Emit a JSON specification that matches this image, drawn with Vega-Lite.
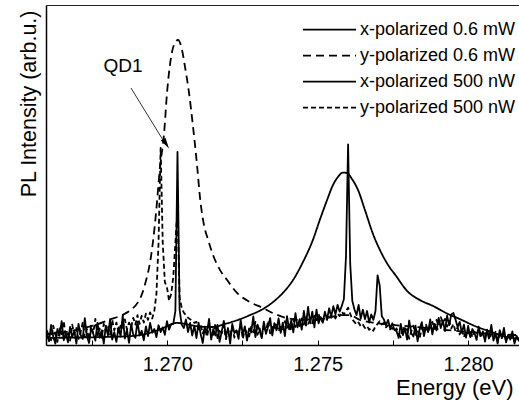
{
"$schema": "https://vega.github.io/schema/vega-lite/v6.json",
"autosize": {"type": "none"},
"padding": {"left": 46, "top": 5, "right": 0, "bottom": 56},
"width": 473,
"height": 340,
"background": "white",
"config": {
  "view": {"stroke": null},
  "font": "Liberation Sans",
  "legend": {"orient": "none", "legendX": 256, "legendY": 12, "symbolType": "stroke", "symbolSize": 2809, "symbolStrokeColor": "black", "labelFont": "Liberation Sans", "labelFontSize": 18, "labelColor": "black", "clipHeight": 25.3, "rowPadding": 0, "labelOffset": 3, "padding": 0, "title": null}
},
"datasets": {
"smooth": [
{"e":1.266,"v":0.021,"s":"x6"},{"e":1.2671,"v":0.022,"s":"x6"},{"e":1.2681,"v":0.024,"s":"x6"},{"e":1.26876,"v":0.026,"s":"x6"},{"e":1.26926,"v":0.032,"s":"x6"},{"e":1.26959,"v":0.041,"s":"x6"},{"e":1.26986,"v":0.05,"s":"x6"},{"e":1.27009,"v":0.059,"s":"x6"},{"e":1.27032,"v":0.065,"s":"x6"},{"e":1.27052,"v":0.063,"s":"x6"},{"e":1.27075,"v":0.059,"s":"x6"},{"e":1.27109,"v":0.054,"s":"x6"},{"e":1.27152,"v":0.053,"s":"x6"},{"e":1.27192,"v":0.062,"s":"x6"},{"e":1.27242,"v":0.076,"s":"x6"},{"e":1.27275,"v":0.088,"s":"x6"},{"e":1.27308,"v":0.101,"s":"x6"},{"e":1.27351,"v":0.126,"s":"x6"},{"e":1.27384,"v":0.153,"s":"x6"},{"e":1.27418,"v":0.191,"s":"x6"},{"e":1.27451,"v":0.244,"s":"x6"},{"e":1.27484,"v":0.309,"s":"x6"},{"e":1.27507,"v":0.368,"s":"x6"},{"e":1.27531,"v":0.426,"s":"x6"},{"e":1.27551,"v":0.471,"s":"x6"},{"e":1.27567,"v":0.494,"s":"x6"},{"e":1.27584,"v":0.507,"s":"x6"},{"e":1.27597,"v":0.506,"s":"x6"},{"e":1.27614,"v":0.488,"s":"x6"},{"e":1.27634,"v":0.456,"s":"x6"},{"e":1.27657,"v":0.397,"s":"x6"},{"e":1.27684,"v":0.326,"s":"x6"},{"e":1.27707,"v":0.279,"s":"x6"},{"e":1.2773,"v":0.241,"s":"x6"},{"e":1.27763,"v":0.2,"s":"x6"},{"e":1.27796,"v":0.16,"s":"x6"},{"e":1.2784,"v":0.132,"s":"x6"},{"e":1.27883,"v":0.115,"s":"x6"},{"e":1.27929,"v":0.093,"s":"x6"},{"e":1.27973,"v":0.076,"s":"x6"},{"e":1.28022,"v":0.056,"s":"x6"},{"e":1.28072,"v":0.04,"s":"x6"},{"e":1.28122,"v":0.025,"s":"x6"},{"e":1.28172,"v":0.018,"s":"x6"},
{"e":1.266,"v":0.032,"s":"y6"},{"e":1.2666,"v":0.038,"s":"y6"},{"e":1.2671,"v":0.047,"s":"y6"},{"e":1.2676,"v":0.059,"s":"y6"},{"e":1.2681,"v":0.075,"s":"y6"},{"e":1.2685,"v":0.088,"s":"y6"},{"e":1.26883,"v":0.106,"s":"y6"},{"e":1.26903,"v":0.126,"s":"y6"},{"e":1.26916,"v":0.15,"s":"y6"},{"e":1.26929,"v":0.188,"s":"y6"},{"e":1.26943,"v":0.244,"s":"y6"},{"e":1.26952,"v":0.3,"s":"y6"},{"e":1.26962,"v":0.382,"s":"y6"},{"e":1.26976,"v":0.524,"s":"y6"},{"e":1.26989,"v":0.618,"s":"y6"},{"e":1.27,"v":0.75,"s":"y6"},{"e":1.27009,"v":0.824,"s":"y6"},{"e":1.27022,"v":0.882,"s":"y6"},{"e":1.27036,"v":0.897,"s":"y6"},{"e":1.27049,"v":0.868,"s":"y6"},{"e":1.27059,"v":0.818,"s":"y6"},{"e":1.27072,"v":0.744,"s":"y6"},{"e":1.27085,"v":0.647,"s":"y6"},{"e":1.27099,"v":0.529,"s":"y6"},{"e":1.27109,"v":0.432,"s":"y6"},{"e":1.27122,"v":0.353,"s":"y6"},{"e":1.27136,"v":0.309,"s":"y6"},{"e":1.27152,"v":0.265,"s":"y6"},{"e":1.27175,"v":0.221,"s":"y6"},{"e":1.27199,"v":0.191,"s":"y6"},{"e":1.27232,"v":0.153,"s":"y6"},{"e":1.27275,"v":0.126,"s":"y6"},{"e":1.27318,"v":0.109,"s":"y6"},{"e":1.27351,"v":0.094,"s":"y6"},{"e":1.27398,"v":0.079,"s":"y6"},{"e":1.27441,"v":0.074,"s":"y6"},{"e":1.2749,"v":0.076,"s":"y6"},{"e":1.27531,"v":0.079,"s":"y6"},{"e":1.27574,"v":0.088,"s":"y6"},{"e":1.27607,"v":0.088,"s":"y6"},{"e":1.2764,"v":0.074,"s":"y6"},{"e":1.2769,"v":0.065,"s":"y6"},{"e":1.2775,"v":0.059,"s":"y6"},{"e":1.27829,"v":0.053,"s":"y6"},{"e":1.27929,"v":0.044,"s":"y6"},{"e":1.28006,"v":0.038,"s":"y6"},{"e":1.28089,"v":0.032,"s":"y6"},{"e":1.28172,"v":0.029,"s":"y6"}
],
"noisy": [
{"e":1.266,"v":0.036,"s":"x5"},{"e":1.26607,"v":0.011,"s":"x5"},{"e":1.26614,"v":0.059,"s":"x5"},{"e":1.26621,"v":0.025,"s":"x5"},{"e":1.26628,"v":0.004,"s":"x5"},{"e":1.26635,"v":0.047,"s":"x5"},{"e":1.26642,"v":0.028,"s":"x5"},{"e":1.26649,"v":0.070,"s":"x5"},{"e":1.26656,"v":0.014,"s":"x5"},{"e":1.26663,"v":0.035,"s":"x5"},
{"e":1.2667,"v":0.008,"s":"x5"},{"e":1.26677,"v":0.053,"s":"x5"},{"e":1.26684,"v":0.023,"s":"x5"},{"e":1.26691,"v":0.042,"s":"x5"},{"e":1.26698,"v":0.004,"s":"x5"},{"e":1.26705,"v":0.062,"s":"x5"},{"e":1.26712,"v":0.030,"s":"x5"},{"e":1.26719,"v":0.018,"s":"x5"},{"e":1.26726,"v":0.079,"s":"x5"},{"e":1.26733,"v":0.026,"s":"x5"},
{"e":1.2674,"v":0.006,"s":"x5"},{"e":1.26747,"v":0.048,"s":"x5"},{"e":1.26754,"v":0.033,"s":"x5"},{"e":1.26761,"v":0.013,"s":"x5"},{"e":1.26768,"v":0.065,"s":"x5"},{"e":1.26775,"v":0.021,"s":"x5"},{"e":1.26782,"v":0.043,"s":"x5"},{"e":1.26789,"v":0.004,"s":"x5"},{"e":1.26796,"v":0.057,"s":"x5"},{"e":1.26803,"v":0.028,"s":"x5"},
{"e":1.2681,"v":0.076,"s":"x5"},{"e":1.26817,"v":0.016,"s":"x5"},{"e":1.26824,"v":0.038,"s":"x5"},{"e":1.26831,"v":0.009,"s":"x5"},{"e":1.26838,"v":0.052,"s":"x5"},{"e":1.26845,"v":0.025,"s":"x5"},{"e":1.26852,"v":0.087,"s":"x5"},{"e":1.26859,"v":0.019,"s":"x5"},{"e":1.26866,"v":0.045,"s":"x5"},{"e":1.26873,"v":0.006,"s":"x5"},
{"e":1.2688,"v":0.060,"s":"x5"},{"e":1.26887,"v":0.031,"s":"x5"},{"e":1.26894,"v":0.021,"s":"x5"},{"e":1.26901,"v":0.069,"s":"x5"},{"e":1.26908,"v":0.028,"s":"x5"},{"e":1.26915,"v":0.042,"s":"x5"},{"e":1.26922,"v":0.014,"s":"x5"},{"e":1.26929,"v":0.055,"s":"x5"},{"e":1.26936,"v":0.026,"s":"x5"},{"e":1.26943,"v":0.065,"s":"x5"},
{"e":1.2695,"v":0.036,"s":"x5"},{"e":1.26957,"v":0.047,"s":"x5"},{"e":1.26964,"v":0.023,"s":"x5"},{"e":1.26971,"v":0.058,"s":"x5"},{"e":1.26978,"v":0.038,"s":"x5"},{"e":1.26985,"v":0.052,"s":"x5"},{"e":1.26992,"v":0.030,"s":"x5"},{"e":1.26999,"v":0.070,"s":"x5"},{"e":1.27006,"v":0.045,"s":"x5"},{"e":1.27013,"v":0.062,"s":"x5"},
{"e":1.2702,"v":0.062,"s":"x5"},{"e":1.27027,"v":0.100,"s":"x5"},{"e":1.27034,"v":0.568,"s":"x5"},{"e":1.27041,"v":0.105,"s":"x5"},{"e":1.27048,"v":0.060,"s":"x5"},{"e":1.27055,"v":0.050,"s":"x5"},{"e":1.27062,"v":0.075,"s":"x5"},{"e":1.27069,"v":0.038,"s":"x5"},{"e":1.27076,"v":0.065,"s":"x5"},{"e":1.27083,"v":0.028,"s":"x5"},
{"e":1.2709,"v":0.057,"s":"x5"},{"e":1.27097,"v":0.020,"s":"x5"},{"e":1.27104,"v":0.066,"s":"x5"},{"e":1.27111,"v":0.032,"s":"x5"},{"e":1.27118,"v":0.006,"s":"x5"},{"e":1.27125,"v":0.054,"s":"x5"},{"e":1.27132,"v":0.037,"s":"x5"},{"e":1.27139,"v":0.077,"s":"x5"},{"e":1.27146,"v":0.016,"s":"x5"},{"e":1.27153,"v":0.047,"s":"x5"},
{"e":1.2716,"v":0.028,"s":"x5"},{"e":1.27167,"v":0.059,"s":"x5"},{"e":1.27174,"v":0.009,"s":"x5"},{"e":1.27181,"v":0.040,"s":"x5"},{"e":1.27188,"v":0.071,"s":"x5"},{"e":1.27195,"v":0.025,"s":"x5"},{"e":1.27202,"v":0.050,"s":"x5"},{"e":1.27209,"v":0.004,"s":"x5"},{"e":1.27216,"v":0.062,"s":"x5"},{"e":1.27223,"v":0.035,"s":"x5"},
{"e":1.2723,"v":0.043,"s":"x5"},{"e":1.27237,"v":0.018,"s":"x5"},{"e":1.27244,"v":0.074,"s":"x5"},{"e":1.27251,"v":0.030,"s":"x5"},{"e":1.27258,"v":0.055,"s":"x5"},{"e":1.27265,"v":0.013,"s":"x5"},{"e":1.27272,"v":0.049,"s":"x5"},{"e":1.27279,"v":0.037,"s":"x5"},{"e":1.27286,"v":0.084,"s":"x5"},{"e":1.27293,"v":0.023,"s":"x5"},
{"e":1.273,"v":0.060,"s":"x5"},{"e":1.27307,"v":0.042,"s":"x5"},{"e":1.27314,"v":0.020,"s":"x5"},{"e":1.27321,"v":0.069,"s":"x5"},{"e":1.27328,"v":0.033,"s":"x5"},{"e":1.27335,"v":0.054,"s":"x5"},{"e":1.27342,"v":0.079,"s":"x5"},{"e":1.27349,"v":0.028,"s":"x5"},{"e":1.27356,"v":0.064,"s":"x5"},{"e":1.27363,"v":0.043,"s":"x5"},
{"e":1.2737,"v":0.078,"s":"x5"},{"e":1.27377,"v":0.036,"s":"x5"},{"e":1.27384,"v":0.066,"s":"x5"},{"e":1.27391,"v":0.026,"s":"x5"},{"e":1.27398,"v":0.085,"s":"x5"},{"e":1.27405,"v":0.046,"s":"x5"},{"e":1.27412,"v":0.072,"s":"x5"},{"e":1.27419,"v":0.037,"s":"x5"},{"e":1.27426,"v":0.094,"s":"x5"},{"e":1.27433,"v":0.052,"s":"x5"},
{"e":1.2744,"v":0.076,"s":"x5"},{"e":1.27447,"v":0.045,"s":"x5"},{"e":1.27454,"v":0.100,"s":"x5"},{"e":1.27461,"v":0.057,"s":"x5"},{"e":1.27468,"v":0.112,"s":"x5"},{"e":1.27475,"v":0.064,"s":"x5"},{"e":1.27482,"v":0.098,"s":"x5"},{"e":1.27489,"v":0.052,"s":"x5"},{"e":1.27496,"v":0.104,"s":"x5"},{"e":1.27503,"v":0.064,"s":"x5"},
{"e":1.2751,"v":0.082,"s":"x5"},{"e":1.27517,"v":0.066,"s":"x5"},{"e":1.27524,"v":0.098,"s":"x5"},{"e":1.27531,"v":0.074,"s":"x5"},{"e":1.27538,"v":0.108,"s":"x5"},{"e":1.27545,"v":0.084,"s":"x5"},{"e":1.27552,"v":0.114,"s":"x5"},{"e":1.27559,"v":0.090,"s":"x5"},{"e":1.27566,"v":0.118,"s":"x5"},{"e":1.27573,"v":0.098,"s":"x5"},
{"e":1.2758,"v":0.115,"s":"x5"},{"e":1.27587,"v":0.135,"s":"x5"},{"e":1.27594,"v":0.260,"s":"x5"},{"e":1.27601,"v":0.590,"s":"x5"},{"e":1.27608,"v":0.240,"s":"x5"},{"e":1.27615,"v":0.130,"s":"x5"},{"e":1.27622,"v":0.105,"s":"x5"},{"e":1.27629,"v":0.088,"s":"x5"},{"e":1.27636,"v":0.118,"s":"x5"},{"e":1.27643,"v":0.078,"s":"x5"},
{"e":1.2765,"v":0.104,"s":"x5"},{"e":1.27657,"v":0.076,"s":"x5"},{"e":1.27664,"v":0.100,"s":"x5"},{"e":1.27671,"v":0.066,"s":"x5"},{"e":1.27678,"v":0.090,"s":"x5"},{"e":1.27685,"v":0.074,"s":"x5"},{"e":1.27692,"v":0.100,"s":"x5"},{"e":1.27699,"v":0.205,"s":"x5"},{"e":1.27706,"v":0.175,"s":"x5"},{"e":1.27713,"v":0.085,"s":"x5"},
{"e":1.2772,"v":0.075,"s":"x5"},{"e":1.27727,"v":0.058,"s":"x5"},{"e":1.27734,"v":0.074,"s":"x5"},{"e":1.27741,"v":0.048,"s":"x5"},{"e":1.27748,"v":0.064,"s":"x5"},{"e":1.27755,"v":0.044,"s":"x5"},{"e":1.27762,"v":0.041,"s":"x5"},{"e":1.27769,"v":0.021,"s":"x5"},{"e":1.27776,"v":0.062,"s":"x5"},{"e":1.27783,"v":0.029,"s":"x5"},
{"e":1.2779,"v":0.050,"s":"x5"},{"e":1.27797,"v":0.016,"s":"x5"},{"e":1.27804,"v":0.072,"s":"x5"},{"e":1.27811,"v":0.035,"s":"x5"},{"e":1.27818,"v":0.025,"s":"x5"},{"e":1.27825,"v":0.057,"s":"x5"},{"e":1.27832,"v":0.011,"s":"x5"},{"e":1.27839,"v":0.047,"s":"x5"},{"e":1.27846,"v":0.067,"s":"x5"},{"e":1.27853,"v":0.026,"s":"x5"},
{"e":1.2786,"v":0.053,"s":"x5"},{"e":1.27867,"v":0.038,"s":"x5"},{"e":1.27874,"v":0.075,"s":"x5"},{"e":1.27881,"v":0.031,"s":"x5"},{"e":1.27888,"v":0.062,"s":"x5"},{"e":1.27895,"v":0.043,"s":"x5"},{"e":1.27902,"v":0.080,"s":"x5"},{"e":1.27909,"v":0.050,"s":"x5"},{"e":1.27916,"v":0.072,"s":"x5"},{"e":1.27923,"v":0.041,"s":"x5"},
{"e":1.2793,"v":0.086,"s":"x5"},{"e":1.27937,"v":0.058,"s":"x5"},{"e":1.27944,"v":0.090,"s":"x5"},{"e":1.27951,"v":0.094,"s":"x5"},{"e":1.27958,"v":0.075,"s":"x5"},{"e":1.27965,"v":0.053,"s":"x5"},{"e":1.27972,"v":0.068,"s":"x5"},{"e":1.27979,"v":0.036,"s":"x5"},{"e":1.27986,"v":0.060,"s":"x5"},{"e":1.27993,"v":0.022,"s":"x5"},
{"e":1.28,"v":0.056,"s":"x5"},{"e":1.28007,"v":0.023,"s":"x5"},{"e":1.28014,"v":0.047,"s":"x5"},{"e":1.28021,"v":0.035,"s":"x5"},{"e":1.28028,"v":0.015,"s":"x5"},{"e":1.28035,"v":0.054,"s":"x5"},{"e":1.28042,"v":0.027,"s":"x5"},{"e":1.28049,"v":0.040,"s":"x5"},{"e":1.28056,"v":0.010,"s":"x5"},{"e":1.28063,"v":0.045,"s":"x5"},
{"e":1.2807,"v":0.022,"s":"x5"},{"e":1.28077,"v":0.059,"s":"x5"},{"e":1.28084,"v":0.013,"s":"x5"},{"e":1.28091,"v":0.033,"s":"x5"},{"e":1.28098,"v":0.004,"s":"x5"},{"e":1.28105,"v":0.044,"s":"x5"},{"e":1.28112,"v":0.020,"s":"x5"},{"e":1.28119,"v":0.050,"s":"x5"},{"e":1.28126,"v":0.008,"s":"x5"},{"e":1.28133,"v":0.030,"s":"x5"},
{"e":1.2814,"v":0.016,"s":"x5"},{"e":1.28147,"v":0.040,"s":"x5"},{"e":1.28154,"v":0.004,"s":"x5"},{"e":1.28161,"v":0.027,"s":"x5"},{"e":1.28168,"v":0.013,"s":"x5"},{"e":1.28175,"v":0.032,"s":"x5"},
{"e":1.266,"v":0.043,"s":"y5"},{"e":1.26607,"v":0.023,"s":"y5"},{"e":1.26614,"v":0.014,"s":"y5"},{"e":1.26621,"v":0.057,"s":"y5"},{"e":1.26628,"v":0.033,"s":"y5"},{"e":1.26635,"v":0.009,"s":"y5"},{"e":1.26642,"v":0.049,"s":"y5"},{"e":1.26649,"v":0.028,"s":"y5"},{"e":1.26656,"v":0.071,"s":"y5"},{"e":1.26663,"v":0.020,"s":"y5"},
{"e":1.2667,"v":0.040,"s":"y5"},{"e":1.26677,"v":0.013,"s":"y5"},{"e":1.26684,"v":0.060,"s":"y5"},{"e":1.26691,"v":0.032,"s":"y5"},{"e":1.26698,"v":0.050,"s":"y5"},{"e":1.26705,"v":0.018,"s":"y5"},{"e":1.26712,"v":0.037,"s":"y5"},{"e":1.26719,"v":0.066,"s":"y5"},{"e":1.26726,"v":0.023,"s":"y5"},{"e":1.26733,"v":0.047,"s":"y5"},
{"e":1.2674,"v":0.016,"s":"y5"},{"e":1.26747,"v":0.057,"s":"y5"},{"e":1.26754,"v":0.035,"s":"y5"},{"e":1.26761,"v":0.077,"s":"y5"},{"e":1.26768,"v":0.028,"s":"y5"},{"e":1.26775,"v":0.049,"s":"y5"},{"e":1.26782,"v":0.021,"s":"y5"},{"e":1.26789,"v":0.062,"s":"y5"},{"e":1.26796,"v":0.040,"s":"y5"},{"e":1.26803,"v":0.054,"s":"y5"},
{"e":1.2681,"v":0.030,"s":"y5"},{"e":1.26817,"v":0.074,"s":"y5"},{"e":1.26824,"v":0.043,"s":"y5"},{"e":1.26831,"v":0.066,"s":"y5"},{"e":1.26838,"v":0.037,"s":"y5"},{"e":1.26845,"v":0.057,"s":"y5"},{"e":1.26852,"v":0.047,"s":"y5"},{"e":1.26859,"v":0.075,"s":"y5"},{"e":1.26866,"v":0.046,"s":"y5"},{"e":1.26873,"v":0.066,"s":"y5"},
{"e":1.2688,"v":0.052,"s":"y5"},{"e":1.26887,"v":0.080,"s":"y5"},{"e":1.26894,"v":0.060,"s":"y5"},{"e":1.26901,"v":0.088,"s":"y5"},{"e":1.26908,"v":0.062,"s":"y5"},{"e":1.26915,"v":0.086,"s":"y5"},{"e":1.26922,"v":0.066,"s":"y5"},{"e":1.26929,"v":0.092,"s":"y5"},{"e":1.26936,"v":0.074,"s":"y5"},{"e":1.26943,"v":0.096,"s":"y5"},
{"e":1.2695,"v":0.078,"s":"y5"},{"e":1.26957,"v":0.100,"s":"y5"},{"e":1.26964,"v":0.150,"s":"y5"},{"e":1.26971,"v":0.300,"s":"y5"},{"e":1.26978,"v":0.580,"s":"y5"},{"e":1.26985,"v":0.300,"s":"y5"},{"e":1.26992,"v":0.185,"s":"y5"},{"e":1.26999,"v":0.170,"s":"y5"},{"e":1.27006,"v":0.130,"s":"y5"},{"e":1.27013,"v":0.150,"s":"y5"},
{"e":1.2702,"v":0.200,"s":"y5"},{"e":1.27027,"v":0.300,"s":"y5"},{"e":1.27034,"v":0.400,"s":"y5"},{"e":1.27041,"v":0.140,"s":"y5"},{"e":1.27048,"v":0.110,"s":"y5"},{"e":1.27055,"v":0.095,"s":"y5"},{"e":1.27062,"v":0.088,"s":"y5"},{"e":1.27069,"v":0.080,"s":"y5"},{"e":1.27076,"v":0.076,"s":"y5"},{"e":1.27083,"v":0.070,"s":"y5"},
{"e":1.2709,"v":0.065,"s":"y5"},{"e":1.27097,"v":0.068,"s":"y5"},{"e":1.27104,"v":0.046,"s":"y5"},{"e":1.27111,"v":0.058,"s":"y5"},{"e":1.27118,"v":0.034,"s":"y5"},{"e":1.27125,"v":0.049,"s":"y5"},{"e":1.27132,"v":0.024,"s":"y5"},{"e":1.27139,"v":0.054,"s":"y5"},{"e":1.27146,"v":0.039,"s":"y5"},{"e":1.27153,"v":0.030,"s":"y5"},
{"e":1.2716,"v":0.063,"s":"y5"},{"e":1.27167,"v":0.020,"s":"y5"},{"e":1.27174,"v":0.047,"s":"y5"},{"e":1.27181,"v":0.034,"s":"y5"},{"e":1.27188,"v":0.058,"s":"y5"},{"e":1.27195,"v":0.017,"s":"y5"},{"e":1.27202,"v":0.044,"s":"y5"},{"e":1.27209,"v":0.029,"s":"y5"},{"e":1.27216,"v":0.053,"s":"y5"},{"e":1.27223,"v":0.022,"s":"y5"},
{"e":1.2723,"v":0.042,"s":"y5"},{"e":1.27237,"v":0.032,"s":"y5"},{"e":1.27244,"v":0.061,"s":"y5"},{"e":1.27251,"v":0.018,"s":"y5"},{"e":1.27258,"v":0.046,"s":"y5"},{"e":1.27265,"v":0.036,"s":"y5"},{"e":1.27272,"v":0.025,"s":"y5"},{"e":1.27279,"v":0.054,"s":"y5"},{"e":1.27286,"v":0.037,"s":"y5"},{"e":1.27293,"v":0.068,"s":"y5"},
{"e":1.273,"v":0.030,"s":"y5"},{"e":1.27307,"v":0.049,"s":"y5"},{"e":1.27314,"v":0.024,"s":"y5"},{"e":1.27321,"v":0.059,"s":"y5"},{"e":1.27328,"v":0.039,"s":"y5"},{"e":1.27335,"v":0.071,"s":"y5"},{"e":1.27342,"v":0.034,"s":"y5"},{"e":1.27349,"v":0.053,"s":"y5"},{"e":1.27356,"v":0.044,"s":"y5"},{"e":1.27363,"v":0.066,"s":"y5"},
{"e":1.2737,"v":0.040,"s":"y5"},{"e":1.27377,"v":0.056,"s":"y5"},{"e":1.27384,"v":0.046,"s":"y5"},{"e":1.27391,"v":0.070,"s":"y5"},{"e":1.27398,"v":0.050,"s":"y5"},{"e":1.27405,"v":0.064,"s":"y5"},{"e":1.27412,"v":0.042,"s":"y5"},{"e":1.27419,"v":0.077,"s":"y5"},{"e":1.27426,"v":0.053,"s":"y5"},{"e":1.27433,"v":0.066,"s":"y5"},
{"e":1.2744,"v":0.056,"s":"y5"},{"e":1.27447,"v":0.078,"s":"y5"},{"e":1.27454,"v":0.060,"s":"y5"},{"e":1.27461,"v":0.082,"s":"y5"},{"e":1.27468,"v":0.062,"s":"y5"},{"e":1.27475,"v":0.074,"s":"y5"},{"e":1.27482,"v":0.064,"s":"y5"},{"e":1.27489,"v":0.086,"s":"y5"},{"e":1.27496,"v":0.068,"s":"y5"},{"e":1.27503,"v":0.092,"s":"y5"},
{"e":1.2751,"v":0.070,"s":"y5"},{"e":1.27517,"v":0.070,"s":"y5"},{"e":1.27524,"v":0.082,"s":"y5"},{"e":1.27531,"v":0.075,"s":"y5"},{"e":1.27538,"v":0.090,"s":"y5"},{"e":1.27545,"v":0.080,"s":"y5"},{"e":1.27552,"v":0.088,"s":"y5"},{"e":1.27559,"v":0.078,"s":"y5"},{"e":1.27566,"v":0.092,"s":"y5"},{"e":1.27573,"v":0.085,"s":"y5"},
{"e":1.2758,"v":0.098,"s":"y5"},{"e":1.27587,"v":0.090,"s":"y5"},{"e":1.27594,"v":0.100,"s":"y5"},{"e":1.27601,"v":0.110,"s":"y5"},{"e":1.27608,"v":0.092,"s":"y5"},{"e":1.27615,"v":0.075,"s":"y5"},{"e":1.27622,"v":0.068,"s":"y5"},{"e":1.27629,"v":0.060,"s":"y5"},{"e":1.27636,"v":0.066,"s":"y5"},{"e":1.27643,"v":0.055,"s":"y5"},
{"e":1.2765,"v":0.060,"s":"y5"},{"e":1.27657,"v":0.050,"s":"y5"},{"e":1.27664,"v":0.056,"s":"y5"},{"e":1.27671,"v":0.045,"s":"y5"},{"e":1.27678,"v":0.050,"s":"y5"},{"e":1.27685,"v":0.042,"s":"y5"},{"e":1.27692,"v":0.055,"s":"y5"},{"e":1.27699,"v":0.062,"s":"y5"},{"e":1.27706,"v":0.070,"s":"y5"},{"e":1.27713,"v":0.060,"s":"y5"},
{"e":1.2772,"v":0.066,"s":"y5"},{"e":1.27727,"v":0.052,"s":"y5"},{"e":1.27734,"v":0.058,"s":"y5"},{"e":1.27741,"v":0.046,"s":"y5"},{"e":1.27748,"v":0.050,"s":"y5"},{"e":1.27755,"v":0.040,"s":"y5"},{"e":1.27762,"v":0.049,"s":"y5"},{"e":1.27769,"v":0.033,"s":"y5"},{"e":1.27776,"v":0.023,"s":"y5"},{"e":1.27783,"v":0.054,"s":"y5"},
{"e":1.2779,"v":0.037,"s":"y5"},{"e":1.27797,"v":0.047,"s":"y5"},{"e":1.27804,"v":0.018,"s":"y5"},{"e":1.27811,"v":0.040,"s":"y5"},{"e":1.27818,"v":0.057,"s":"y5"},{"e":1.27825,"v":0.030,"s":"y5"},{"e":1.27832,"v":0.043,"s":"y5"},{"e":1.27839,"v":0.021,"s":"y5"},{"e":1.27846,"v":0.050,"s":"y5"},{"e":1.27853,"v":0.035,"s":"y5"},
{"e":1.2786,"v":0.060,"s":"y5"},{"e":1.27867,"v":0.040,"s":"y5"},{"e":1.27874,"v":0.054,"s":"y5"},{"e":1.27881,"v":0.068,"s":"y5"},{"e":1.27888,"v":0.049,"s":"y5"},{"e":1.27895,"v":0.074,"s":"y5"},{"e":1.27902,"v":0.057,"s":"y5"},{"e":1.27909,"v":0.082,"s":"y5"},{"e":1.27916,"v":0.065,"s":"y5"},{"e":1.27923,"v":0.077,"s":"y5"},
{"e":1.2793,"v":0.054,"s":"y5"},{"e":1.27937,"v":0.071,"s":"y5"},{"e":1.27944,"v":0.049,"s":"y5"},{"e":1.27951,"v":0.062,"s":"y5"},{"e":1.27958,"v":0.040,"s":"y5"},{"e":1.27965,"v":0.052,"s":"y5"},{"e":1.27972,"v":0.031,"s":"y5"},{"e":1.27979,"v":0.047,"s":"y5"},{"e":1.27986,"v":0.023,"s":"y5"},{"e":1.27993,"v":0.042,"s":"y5"},
{"e":1.28,"v":0.034,"s":"y5"},{"e":1.28007,"v":0.044,"s":"y5"},{"e":1.28014,"v":0.023,"s":"y5"},{"e":1.28021,"v":0.039,"s":"y5"},{"e":1.28028,"v":0.030,"s":"y5"},{"e":1.28035,"v":0.047,"s":"y5"},{"e":1.28042,"v":0.021,"s":"y5"},{"e":1.28049,"v":0.037,"s":"y5"},{"e":1.28056,"v":0.027,"s":"y5"},{"e":1.28063,"v":0.040,"s":"y5"},
{"e":1.2807,"v":0.016,"s":"y5"},{"e":1.28077,"v":0.033,"s":"y5"},{"e":1.28084,"v":0.025,"s":"y5"},{"e":1.28091,"v":0.039,"s":"y5"},{"e":1.28098,"v":0.013,"s":"y5"},{"e":1.28105,"v":0.030,"s":"y5"},{"e":1.28112,"v":0.021,"s":"y5"},{"e":1.28119,"v":0.035,"s":"y5"},{"e":1.28126,"v":0.011,"s":"y5"},{"e":1.28133,"v":0.027,"s":"y5"},
{"e":1.2814,"v":0.020,"s":"y5"},{"e":1.28147,"v":0.032,"s":"y5"},{"e":1.28154,"v":0.010,"s":"y5"},{"e":1.28161,"v":0.023,"s":"y5"},{"e":1.28168,"v":0.016,"s":"y5"},{"e":1.28175,"v":0.028,"s":"y5"}
],
"arrow": [{"e":1.268794,"v":0.7559,"e2":1.26996,"v2":0.5882}],
"head": [{"e":1.26996,"v":0.5918}],
"label": [{"e":1.268528,"v":0.803,"t":"QD1"}]
},
"resolve": {"axis": {"x": "independent", "y": "independent"}},
"layer": [
{
  "data": {"name": "smooth"},
  "mark": {"type": "line", "color": "black", "clip": true, "interpolate": "monotone", "strokeJoin": "round"},
  "encoding": {
    "x": {"field": "e", "type": "quantitative", "scale": {"domain": [1.26597, 1.28169], "nice": false, "zero": false},
      "axis": {"values": [1.2675, 1.27, 1.2725, 1.275, 1.2775, 1.28], "labelExpr": "abs(datum.value*200 - round(datum.value*200)) < 0.01 ? format(datum.value, '.3f') : ''", "labelOverlap": false, "labelFlush": false, "grid": false, "tickSize": -5, "tickColor": "black", "domainColor": "black", "domainWidth": 1.5, "labelFont": "Liberation Sans", "labelFontSize": 20, "labelColor": "black", "labelPadding": 14, "title": "Energy (eV)", "titleFont": "Liberation Sans", "titleFontSize": 22, "titleFontWeight": "normal", "titleColor": "black", "titleAnchor": "end", "titleAlign": "right", "titleX": 467, "titleY": 49, "titleBaseline": "alphabetic"}},
    "y": {"field": "v", "type": "quantitative", "scale": {"domain": [0, 1], "nice": false},
      "axis": {"title": "PL Intensity (arb.u.)", "labels": false, "ticks": false, "grid": false, "domainColor": "black", "domainWidth": 1.5, "titleFont": "Liberation Sans", "titleFontSize": 21.5, "titleFontWeight": "normal", "titleColor": "black", "titleAngle": 270, "titleX": -11, "titleY": 5, "titleAlign": "right", "titleBaseline": "alphabetic"}},
    "strokeDash": {"field": "s", "type": "nominal", "scale": {"domain": ["x6", "y6", "x5", "y5"], "range": [[1, 0], [8, 5], [1, 0], [5, 3]]},
      "legend": {"labelExpr": "datum.label == 'x6' ? 'x-polarized 0.6 mW' : datum.label == 'y6' ? 'y-polarized 0.6 mW' : datum.label == 'x5' ? 'x-polarized 500 nW' : 'y-polarized 500 nW'"}},
    "strokeWidth": {"field": "s", "type": "nominal", "scale": {"domain": ["x6", "y6", "x5", "y5"], "range": [1.8, 1.8, 1, 1]},
      "legend": {"labelExpr": "datum.label == 'x6' ? 'x-polarized 0.6 mW' : datum.label == 'y6' ? 'y-polarized 0.6 mW' : datum.label == 'x5' ? 'x-polarized 500 nW' : 'y-polarized 500 nW'"}}
  }
},
{
  "data": {"name": "noisy"},
  "mark": {"type": "line", "color": "black", "clip": true, "strokeJoin": "round"},
  "encoding": {
    "x": {"field": "e", "type": "quantitative", "axis": null},
    "y": {"field": "v", "type": "quantitative", "axis": null},
    "strokeDash": {"field": "s", "type": "nominal",
      "legend": {"labelExpr": "datum.label == 'x6' ? 'x-polarized 0.6 mW' : datum.label == 'y6' ? 'y-polarized 0.6 mW' : datum.label == 'x5' ? 'x-polarized 500 nW' : 'y-polarized 500 nW'"}},
    "strokeWidth": {"field": "s", "type": "nominal",
      "legend": {"labelExpr": "datum.label == 'x6' ? 'x-polarized 0.6 mW' : datum.label == 'y6' ? 'y-polarized 0.6 mW' : datum.label == 'x5' ? 'x-polarized 500 nW' : 'y-polarized 500 nW'"}}
  }
},
{
  "data": {"name": "arrow"},
  "mark": {"type": "rule", "color": "#333333", "strokeWidth": 1},
  "encoding": {
    "x": {"field": "e", "type": "quantitative", "axis": {"orient": "top", "labels": false, "ticks": false, "grid": false, "title": null, "domainColor": "#222222", "domainWidth": 1}},
    "y": {"field": "v", "type": "quantitative", "axis": null},
    "x2": {"field": "e2"},
    "y2": {"field": "v2"}
  }
},
{
  "data": {"name": "head"},
  "mark": {"type": "point", "shape": "M0,-1L0.5,1L-0.5,1Z", "filled": true, "color": "black", "opacity": 1, "size": 120, "angle": 148},
  "encoding": {
    "x": {"field": "e", "type": "quantitative", "axis": null},
    "y": {"field": "v", "type": "quantitative", "axis": null}
  }
},
{
  "data": {"name": "label"},
  "mark": {"type": "text", "font": "Liberation Sans", "fontSize": 19, "color": "black", "align": "center", "baseline": "alphabetic"},
  "encoding": {
    "x": {"field": "e", "type": "quantitative", "axis": null},
    "y": {"field": "v", "type": "quantitative", "axis": null},
    "text": {"field": "t"}
  }
}
]
}
